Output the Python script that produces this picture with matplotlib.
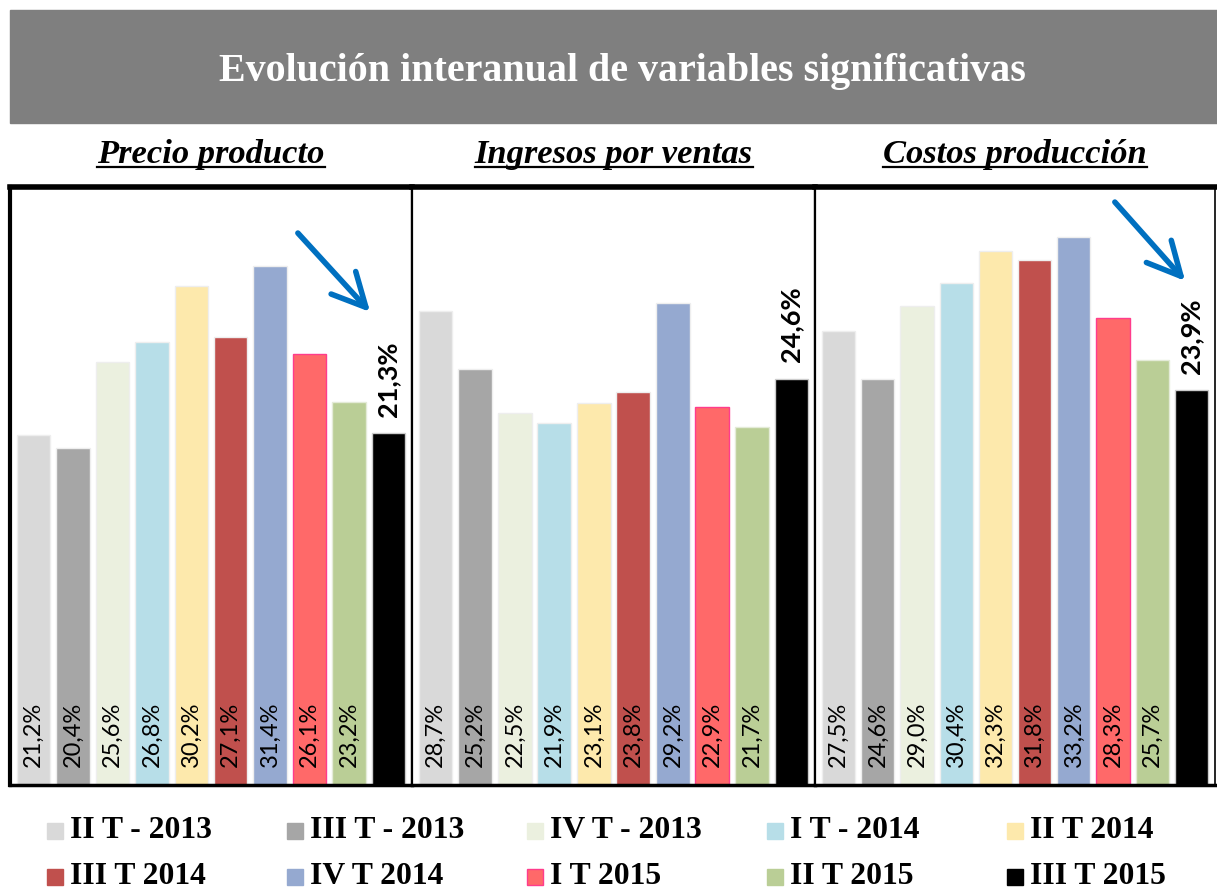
import matplotlib

matplotlib.use("Agg")
import matplotlib.pyplot as plt
from matplotlib.lines import Line2D
from matplotlib.patches import Rectangle

# values (interannual change, %)
periods = ["II T - 2013", "III T - 2013", "IV T - 2013", "I T - 2014", "II T 2014",
           "III T 2014", "IV T 2014", "I T 2015", "II T 2015", "III T 2015"]
precio = [21.2, 20.4, 25.6, 26.8, 30.2, 27.1, 31.4, 26.1, 23.2, 21.3]
ingresos = [28.7, 25.2, 22.5, 21.9, 23.1, 23.8, 29.2, 22.9, 21.7, 24.6]
costos = [27.5, 24.6, 29.0, 30.4, 32.3, 31.8, 33.2, 28.3, 25.7, 23.9]
panel_titles = ["Precio producto", "Ingresos por ventas", "Costos producción"]

colors = ["#D9D9D9", "#A6A6A6", "#EBF0DF", "#B7DEE8", "#FDE9AC",
          "#C0504D", "#95A9D0", "#FF6969", "#BACE96", "#000000"]
edges = ["#EEEEEE"] * 7 + ["#FF3C8C"] + ["#E4EBD8", "#CCCCCC"]

W, H = 1217, 890
SERIF = ["Liberation Serif", "DejaVu Serif"]
SANS = ["Lato", "DejaVu Sans"]


def fx(px):
    return px / W


def fy(py):
    return 1 - py / H


def pct(v):
    return f"{v:.1f}".replace(".", ",") + "%"


fig = plt.figure(figsize=(W / 100, H / 100), dpi=100)

# title banner
fig.add_artist(Rectangle((fx(10), fy(123)), fx(1207), 113 / H,
                         transform=fig.transFigure, color="#7F7F7F", zorder=0))
fig.text(fx(622), fy(72), "Evolución interanual de variables significativas",
         ha="center", va="center", color="white", fontsize=28.8,
         fontweight="bold", family=SERIF)

bounds = [10, 412, 815, 1215]
top_px, bot_px = 187, 785
series = [precio, ingresos, costos]
axes = []
for i, vals in enumerate(series):
    ax = fig.add_axes([fx(bounds[i]), fy(bot_px),
                       (bounds[i + 1] - bounds[i]) / W, (bot_px - top_px) / H])
    x = list(range(len(vals)))
    ax.bar(x, vals, width=0.85, color=colors, edgecolor=edges, linewidth=1.0)
    ax.set_xlim(-0.6, len(vals) - 0.4)
    ax.set_ylim(0, 36.2)
    ax.set_xticks([])
    ax.set_yticks([])
    for j, v in enumerate(vals[:-1]):
        ax.text(j, 1.1, pct(v), rotation=90, ha="center", va="bottom",
                fontsize=17, family=SANS)
    ax.text(x[-1], vals[-1] + 1.0, pct(vals[-1]), rotation=90, ha="center",
            va="bottom", fontsize=19.5, fontweight="bold", family=SANS)
    for s in ax.spines.values():
        s.set_color("black")
    ax.spines["top"].set_linewidth(4)
    ax.spines["bottom"].set_linewidth(2.5)
    ax.spines["left"].set_linewidth(3 if i == 0 else 1.6)
    ax.spines["right"].set_linewidth(1.6 if i < 2 else 1.2)
    axes.append(ax)

# panel headings (underlined)
heads = []
for i, name in enumerate(panel_titles):
    cx = (bounds[i] + bounds[i + 1]) / 2
    heads.append(fig.text(fx(cx), fy(163), name, ha="center", va="baseline",
                          fontsize=24.8, fontweight="bold", style="italic",
                          family=SERIF))
fig.canvas.draw()
renderer = fig.canvas.get_renderer()
for t in heads:
    bb = t.get_window_extent(renderer)
    fig.add_artist(Line2D([bb.x0 / W, bb.x1 / W], [fy(167), fy(167)],
                          transform=fig.transFigure, color="black", lw=1.6))

# trend arrows
arrow_kw = dict(arrowstyle="->,head_length=1.2,head_width=0.6", color="#0070C0",
                lw=4, mutation_scale=20)
axes[0].annotate("", xy=(372, H - 314), xycoords="figure pixels",
                 xytext=(296, H - 231), textcoords="figure pixels",
                 arrowprops=arrow_kw, annotation_clip=False)
axes[2].annotate("", xy=(1187, H - 283), xycoords="figure pixels",
                 xytext=(1113, H - 200), textcoords="figure pixels",
                 arrowprops=arrow_kw, annotation_clip=False)

# legend, 2 rows x 5 columns
for k, (lab, c) in enumerate(zip(periods, colors)):
    row, col = divmod(k, 5)
    mx = 47 + 240 * col
    my = 831 + 46 * row
    ec = "#FF3C8C" if k == 7 else c
    fig.add_artist(Rectangle((fx(mx), fy(my + 8)), 16 / W, 16 / H,
                             transform=fig.transFigure, facecolor=c,
                             edgecolor=ec, lw=1))
    fig.text(fx(mx + 23), fy(my), lab, ha="left", va="center",
             fontsize=22.8, fontweight="bold", family=SERIF)

fig.savefig("out.png", dpi=100)
